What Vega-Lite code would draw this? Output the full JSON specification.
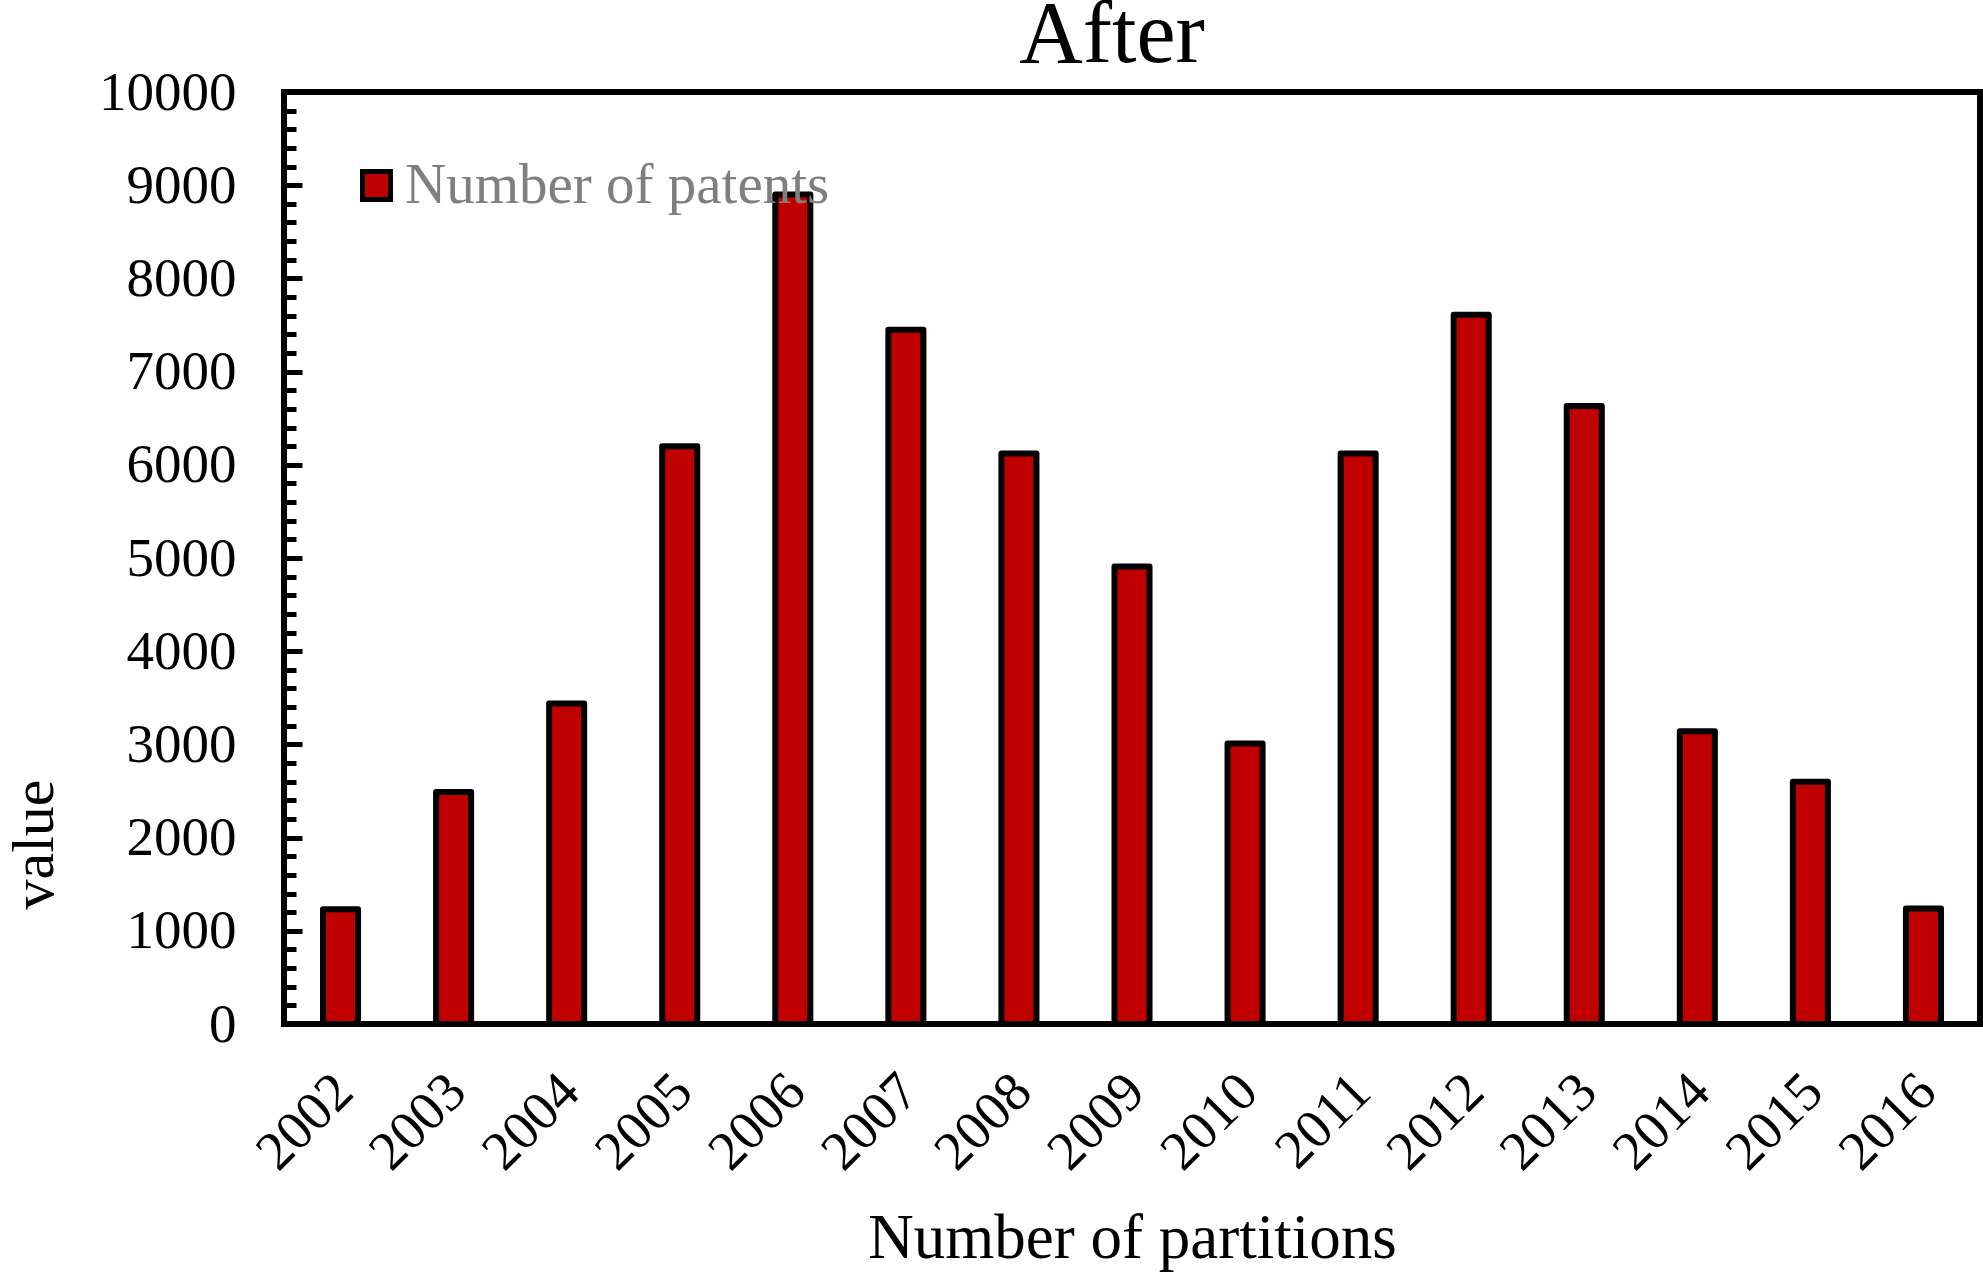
{
  "$schema": "https://vega.github.io/schema/vega-lite/v6.json",
  "width": 1696,
  "height": 932,
  "autosize": {"type": "none"},
  "padding": {"left": 284, "top": 92, "right": 3, "bottom": 252},
  "background": "white",
  "title": {
    "text": "After",
    "font": "Liberation Serif",
    "fontSize": 88,
    "fontWeight": "normal",
    "color": "black",
    "offset": 29,
    "dy": 44,
    "dx": -20
  },
  "data": {
    "values": [
      {"year": "2002", "value": 1230, "series": "Number of patents"},
      {"year": "2003", "value": 2490, "series": "Number of patents"},
      {"year": "2004", "value": 3440, "series": "Number of patents"},
      {"year": "2005", "value": 6200, "series": "Number of patents"},
      {"year": "2006", "value": 8900, "series": "Number of patents"},
      {"year": "2007", "value": 7450, "series": "Number of patents"},
      {"year": "2008", "value": 6120, "series": "Number of patents"},
      {"year": "2009", "value": 4910, "series": "Number of patents"},
      {"year": "2010", "value": 3010, "series": "Number of patents"},
      {"year": "2011", "value": 6120, "series": "Number of patents"},
      {"year": "2012", "value": 7610, "series": "Number of patents"},
      {"year": "2013", "value": 6630, "series": "Number of patents"},
      {"year": "2014", "value": 3140, "series": "Number of patents"},
      {"year": "2015", "value": 2600, "series": "Number of patents"},
      {"year": "2016", "value": 1240, "series": "Number of patents"}
    ]
  },
  "mark": {
    "type": "bar",
    "stroke": "black",
    "strokeWidth": 6,
    "strokeJoin": "round"
  },
  "encoding": {
    "x": {
      "field": "year",
      "type": "ordinal",
      "title": "Number of partitions",
      "scale": {"paddingInner": 0.69, "paddingOuter": 0.345},
      "axis": {
        "labelAngle": -45,
        "ticks": false,
        "domain": false,
        "labelFontSize": 55,
        "labelPadding": 40,
        "labelOffset": -15,
        "titleFontSize": 63,
        "titleBaseline": "alphabetic",
        "titleY": 233
      }
    },
    "y": {
      "field": "value",
      "type": "quantitative",
      "title": "value",
      "scale": {"domain": [0, 10000], "nice": false},
      "axis": {
        "values": [0, 200, 400, 600, 800, 1000, 1200, 1400, 1600, 1800, 2000, 2200, 2400, 2600, 2800, 3000, 3200, 3400, 3600, 3800, 4000, 4200, 4400, 4600, 4800, 5000, 5200, 5400, 5600, 5800, 6000, 6200, 6400, 6600, 6800, 7000, 7200, 7400, 7600, 7800, 8000, 8200, 8400, 8600, 8800, 9000, 9200, 9400, 9600, 9800, 10000],
        "format": "d",
        "labelExpr": "datum.value % 1000 === 0 ? datum.label : ''",
        "labelOverlap": false,
        "labelFontSize": 55,
        "labelPadding": 66,
        "tickSize": {"condition": {"test": "datum.value % 1000 === 0", "value": -18}, "value": -12},
        "tickWidth": 5,
        "grid": false,
        "domain": false,
        "titleFontSize": 60,
        "titleBaseline": "alphabetic",
        "titleX": -232,
        "titleY": 752
      }
    },
    "color": {
      "field": "series",
      "type": "nominal",
      "scale": {"range": ["#c00000"]},
      "legend": {
        "title": null,
        "orient": "none",
        "legendX": 64,
        "legendY": 65,
        "padding": 0,
        "symbolType": "square",
        "symbolSize": 784,
        "symbolStrokeColor": "black",
        "symbolStrokeWidth": 5,
        "symbolOpacity": 1,
        "labelFontSize": 57,
        "labelColor": "#7f7f7f",
        "labelOffset": 0,
        "labelLimit": 0
      }
    }
  },
  "config": {
    "font": "Liberation Serif",
    "view": {"stroke": "black", "strokeWidth": 6},
    "axis": {
      "labelFont": "Liberation Serif",
      "titleFont": "Liberation Serif",
      "labelColor": "black",
      "titleColor": "black",
      "tickColor": "black",
      "titleFontWeight": "normal"
    },
    "legend": {"labelFont": "Liberation Serif"}
  }
}
